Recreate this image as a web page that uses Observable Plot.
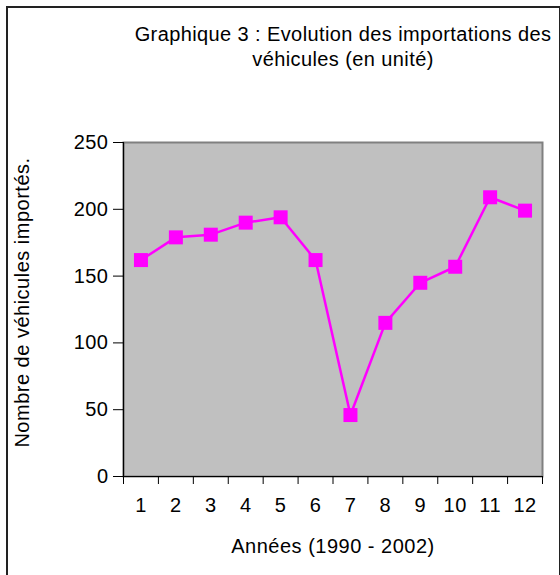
<!DOCTYPE html>
<html>
<head>
<meta charset="utf-8">
<script src="https://cdn.jsdelivr.net/npm/d3@7"></script>
<script src="https://cdn.jsdelivr.net/npm/@observablehq/plot@0.6"></script>
<style>
  html, body { margin: 0; padding: 0; background: #fff; }
  #wrap { position: relative; width: 560px; height: 575px; overflow: hidden; font-family: "Liberation Sans", Arial, sans-serif; }
  #frame { position: absolute; left: 6px; top: 6px; width: 551px; height: 620px; border: 2px solid #222; box-sizing: content-box; }
  #title { position: absolute; left: 43px; width: 600px; top: 22px; text-align: center; font-size: 20px; letter-spacing: 0.4px; line-height: 25px; color: #000; }
  #chart { position: absolute; left: 0; top: 0; }
  #chart svg { letter-spacing: 0.5px; }
</style>
</head>
<body>
<div id="wrap">
  <div id="chart"></div>
  <div id="frame"></div>
  <div id="title">Graphique 3 : Evolution des importations des<br>véhicules (en unité)</div>
</div>
<script>
const years = [1, 2, 3, 4, 5, 6, 7, 8, 9, 10, 11, 12];
const imports = [162, 179, 181, 190, 194, 162, 46, 115, 145, 157, 209, 199];
const yTicks = [0, 50, 100, 150, 200, 250];
const xLabel = "Années (1990 - 2002)";
const yLabel = "Nombre de véhicules importés.";

const data = years.map((y, i) => ({year: y, value: imports[i]}));
const bandEdges = [years[0] - 0.5, ...years.map(y => y + 0.5)];

const plot = Plot.plot({
  width: 560,
  height: 575,
  marginLeft: 123,
  marginRight: 18,
  marginTop: 142,
  marginBottom: 99,
  style: {fontFamily: "Liberation Sans, Arial, sans-serif", background: "transparent", color: "#000"},
  x: {domain: [years[0] - 0.5, years[years.length - 1] + 0.5]},
  y: {domain: [0, 250]},
  marks: [
    Plot.frame({fill: "#C0C0C0", stroke: "#808080", strokeWidth: 2}),
    Plot.ruleX([years[0] - 0.5], {stroke: "#000", strokeWidth: 1.2}),
    Plot.ruleY([0], {stroke: "#000", strokeWidth: 1.2}),
    Plot.axisY({ticks: yTicks, tickSize: 10, tickPadding: 5, fontSize: 20, label: null, stroke: "#000"}),
    Plot.text([yLabel], {frameAnchor: "left", rotate: -90, dx: -101, dy: -7, fontSize: 20, textAnchor: "middle", fill: "#000"}),
    Plot.axisX({ticks: bandEdges, tickSize: 8, tickFormat: () => "", label: null, stroke: "#000"}),
    Plot.axisX({ticks: years, tickSize: 0, tickPadding: 21, fontSize: 20, tickFormat: d => String(d), label: xLabel, labelAnchor: "center", labelArrow: "none", labelOffset: 76}),
    Plot.line(data, {x: "year", y: "value", stroke: "#FF00FF", strokeWidth: 2.5}),
    Plot.dot(data, {x: "year", y: "value", symbol: "square", r: 7.9, fill: "#FF00FF", stroke: "none"})
  ]
});
document.getElementById("chart").appendChild(plot);
</script>
</body>
</html>
